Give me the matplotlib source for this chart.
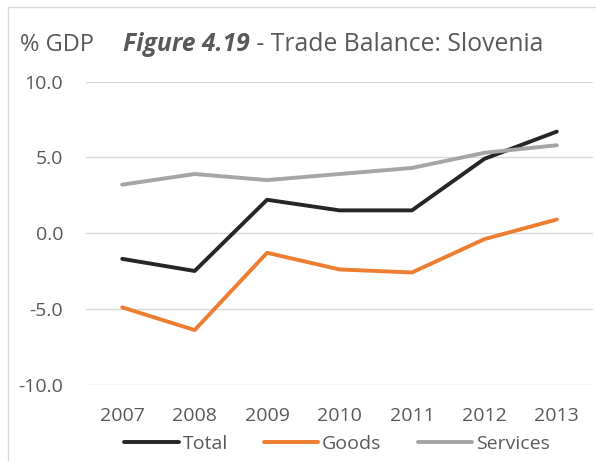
import matplotlib
matplotlib.use("Agg")
import matplotlib.pyplot as plt
from matplotlib.patches import Rectangle

# data
years = ['2007', '2008', '2009', '2010', '2011', '2012', '2013']
total = [-1.7, -2.5, 2.2, 1.5, 1.5, 4.9, 6.7]
goods = [-4.9, -6.4, -1.3, -2.4, -2.6, -0.4, 0.9]
services = [3.2, 3.9, 3.5, 3.9, 4.3, 5.3, 5.8]
yticks = [-10.0, -5.0, 0.0, 5.0, 10.0]

plt.rcParams['font.family'] = ['Open Sans', 'DejaVu Sans']
txt = '#595959'

fig = plt.figure(figsize=(5.96, 4.61), dpi=100)
ax = fig.add_axes([86/596, 1 - 384.6/461, 507/596, 303/461])

x = range(len(years))
ax.plot(x, total, color='#262626', lw=2.8, label='Total', solid_capstyle='round')
ax.plot(x, goods, color='#ED7D31', lw=2.8, label='Goods', solid_capstyle='round')
ax.plot(x, services, color='#A5A5A5', lw=2.8, label='Services', solid_capstyle='round')

ax.set_xlim(-0.5, len(years) - 0.5)
ax.set_ylim(-10, 10)
ax.set_xticks(list(x))
ax.set_xticklabels(years)
ax.set_yticks(yticks)
ax.set_yticklabels(['%.1f' % v for v in yticks])
ax.tick_params(length=0, labelsize=14, colors=txt)
ax.tick_params(axis='y', pad=16.5)
ax.tick_params(axis='x', pad=16)
ax.grid(axis='y', color='#D9D9D9', lw=1)
ax.set_axisbelow(True)
for s in ax.spines.values():
    s.set_visible(False)

# chart area border (right and bottom are cut off in the reference)
fig.add_artist(Rectangle((8/596, -0.1), 1.1, 1 - 7/461 + 0.1, transform=fig.transFigure,
                         fill=False, edgecolor='#D9D9D9', lw=1))

fig.text(20/596, 1 - 51/461, '% GDP', fontsize=17, color=txt, va='baseline')
t1 = fig.text(123/596, 1 - 51/461, 'Figure 4.19', fontsize=17.8, color=txt,
              fontweight='bold', fontstyle='italic', va='baseline')
ax.annotate(' - Trade Balance: Slovenia', xy=(1, 0), xycoords=t1, annotation_clip=False,
            fontsize=17.8, color=txt, va='bottom')

leg = fig.legend(loc='center', bbox_to_anchor=(337/596, 1 - 444/461), ncol=3, frameon=False,
                 fontsize=14, handlelength=2.8, handletextpad=0.2, columnspacing=1.85,
                 borderpad=0, borderaxespad=0)
for t in leg.get_texts():
    t.set_color(txt)

fig.savefig('out.png', dpi=100)
